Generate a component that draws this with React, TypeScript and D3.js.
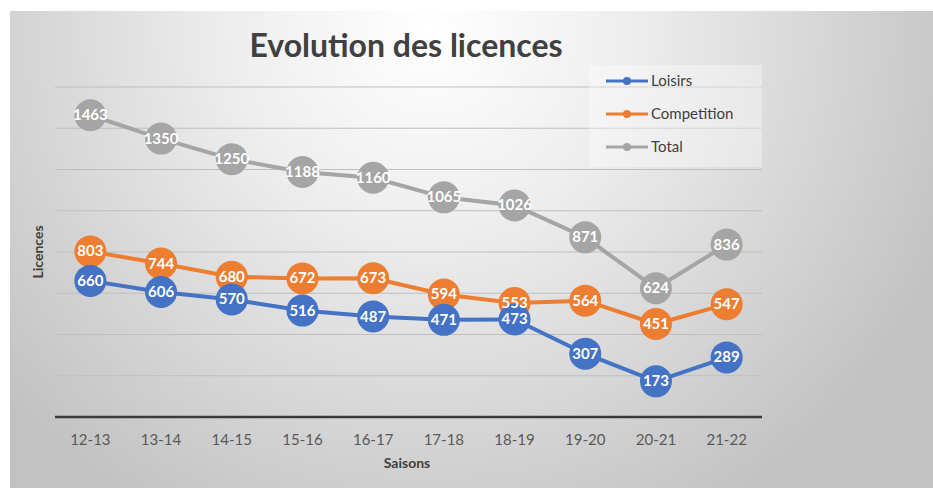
import * as d3 from 'd3'

const SEASONS = ['12-13', '13-14', '14-15', '15-16', '16-17', '17-18', '18-19', '19-20', '20-21', '21-22']
const LOISIRS = [660, 606, 570, 516, 487, 471, 473, 307, 173, 289]
const COMPETITION = [803, 744, 680, 672, 673, 594, 553, 564, 451, 547]
const TOTAL = [1463, 1350, 1250, 1188, 1160, 1065, 1026, 871, 624, 836]
const Y_TICKS = [200, 400, 600, 800, 1000, 1200, 1400, 1600]

const SERIES = [
  { name: 'Loisirs', values: LOISIRS, color: '#4472C4' },
  { name: 'Competition', values: COMPETITION, color: '#ED7D31' },
  { name: 'Total', values: TOTAL, color: '#A5A5A5' },
]

const W = 933
const H = 489
const PLOT = { left: 55, right: 762, top: 87, bottom: 417 }
const FONT = 'Lato, "Open Sans", sans-serif'

export default function App() {
  const x = d3.scaleBand().domain(SEASONS).range([PLOT.left, PLOT.right])
  const y = d3.scaleLinear().domain([0, 1600]).range([PLOT.bottom, PLOT.top])
  const cx = (s: string) => (x(s) ?? 0) + x.bandwidth() / 2

  const line = d3
    .line<number>()
    .x((_, i) => cx(SEASONS[i]))
    .y((v) => y(v))

  // later series sit below, Loisirs drawn last
  const drawOrder = [...SERIES].reverse()

  return (
    <svg
      width={W}
      height={H}
      style={{ position: 'absolute', left: 0, top: 0 }}
      fontFamily={FONT}
    >
      <defs>
        <radialGradient id="bg" cx="430" cy="30" r="560" gradientUnits="userSpaceOnUse">
          <stop offset="0" stopColor="#ffffff" />
          <stop offset="0.35" stopColor="#eeeeee" />
          <stop offset="1" stopColor="#c2c2c2" />
        </radialGradient>
      </defs>
      <rect x={0} y={0} width={W} height={H} fill="#ffffff" />
      <rect x={10} y={11} width={W - 10} height={H - 12} fill="url(#bg)" />

      <text
        x={406}
        y={57}
        textAnchor="middle"
        fontSize={32}
        fontWeight="bold"
        fill="#404040"
      >
        Evolution des licences
      </text>

      {Y_TICKS.map((t) => (
        <line
          key={t}
          x1={PLOT.left}
          x2={PLOT.right}
          y1={y(t)}
          y2={y(t)}
          stroke="#bfbfbf"
          strokeWidth={1}
        />
      ))}

      {/* legend */}
      <rect x={589} y={65} width={173} height={102} fill="#ffffff" fillOpacity={0.35} />
      {SERIES.map((s, i) => {
        const ly = 81 + i * 33
        return (
          <g key={s.name}>
            <line x1={606} x2={648} y1={ly} y2={ly} stroke={s.color} strokeWidth={3} />
            <circle cx={627} cy={ly} r={4} fill={s.color} />
            <text x={651} y={ly + 5} fontSize={15} fill="#404040">
              {s.name}
            </text>
          </g>
        )
      })}

      <line
        x1={PLOT.left}
        x2={PLOT.right}
        y1={PLOT.bottom}
        y2={PLOT.bottom}
        stroke="#3a3a3a"
        strokeWidth={2.5}
      />

      {SEASONS.map((s) => (
        <text key={s} x={cx(s)} y={445} textAnchor="middle" fontSize={15} fill="#595959">
          {s}
        </text>
      ))}

      <text x={407} y={468} textAnchor="middle" fontSize={14} fontWeight="bold" fill="#404040">
        Saisons
      </text>
      <text
        transform={`translate(43,252) rotate(-90)`}
        textAnchor="middle"
        fontSize={14}
        fontWeight="bold"
        fill="#404040"
      >
        Licences
      </text>

      {drawOrder.map((s) => (
        <g key={s.name}>
          <path d={line(s.values) ?? ''} fill="none" stroke={s.color} strokeWidth={4} strokeLinejoin="round" />
          {s.values.map((v, i) => (
            <circle key={i} cx={cx(SEASONS[i])} cy={y(v)} r={16} fill={s.color} />
          ))}
        </g>
      ))}

      {drawOrder.map((s) =>
        s.values.map((v, i) => (
          <text
            key={s.name + i}
            x={cx(SEASONS[i])}
            y={y(v) + 5}
            textAnchor="middle"
            fontSize={15}
            fontWeight="bold"
            fill="#ffffff"
          >
            {v}
          </text>
        ))
      )}
    </svg>
  )
}
